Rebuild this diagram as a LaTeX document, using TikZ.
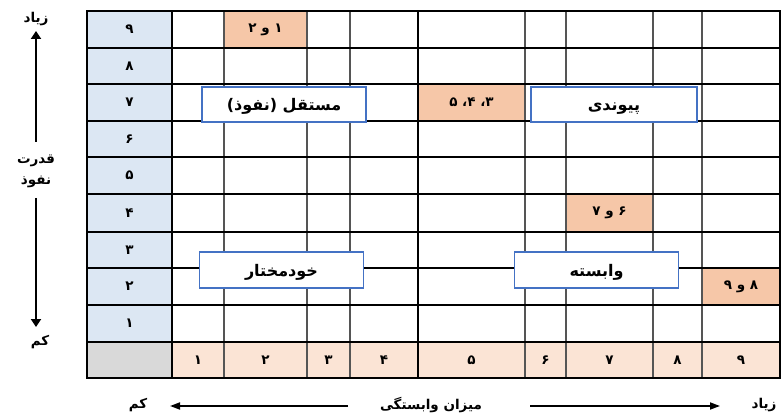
\documentclass[tikz,border=0pt]{standalone}
\usepackage{fontspec}
\TeXXeTstate=1
\newfontfamily\fa[Script=Arabic]{DejaVu Sans}
\usetikzlibrary{arrows.meta}
\definecolor{bluec}{HTML}{DCE7F3}
\definecolor{grayc}{HTML}{D9D9D9}
\definecolor{orangec}{HTML}{F6C7A8}
\definecolor{lorange}{HTML}{FBE4D5}
\definecolor{boxblue}{HTML}{4472C4}
\definecolor{gline}{HTML}{555555}
\begin{document}
\begin{tikzpicture}[x=1pt,y=-1pt,
  every node/.style={font=\fa\bfseries\fontsize{13.5}{15}\selectfont, inner sep=0pt},
  boxfont/.style={font=\fa\bfseries\fontsize{16}{18}\selectfont},
  hline/.style={line width=1.2pt, black},
  vline/.style={line width=1.2pt, gline},
  thick line/.style={line width=2pt, black},
  labelbox/.style={boxfont, draw=boxblue, fill=white, line width=1.3pt, minimum width=164pt, minimum height=35pt, text height=13pt, text depth=0pt},
  vaxis/.style={line width=2.8pt, -{Triangle[length=8pt,width=10pt]}},
  haxis/.style={line width=1.7pt, -{Triangle[length=10pt,width=7pt]}}]
\useasboundingbox (0,0) rectangle (782,414);
% fills
\fill[bluec] (87,11) rectangle (172,342);
\fill[grayc] (87,342) rectangle (172,378);
\fill[lorange] (172,342) rectangle (780,378);
\fill[orangec] (224,11) rectangle (307,48);
\fill[orangec] (418,84) rectangle (525,121);
\fill[orangec] (566,194) rectangle (653,232);
\fill[orangec] (702,268) rectangle (780,305);
% grid
\foreach \x in {224,307,350,525,566,653,702} \draw[vline] (\x,11) -- (\x,378);
\foreach \y in {48,84,121,157,232,268,305,342} \draw[hline] (87,\y) -- (780,\y);
\draw[hline] (172,11) -- (172,378);
\draw[thick line] (418,11) -- (418,378);
\draw[thick line] (87,194) -- (780,194);
\draw[line width=1.4pt] (87,11) rectangle (780,378);
% row numbers
\node (r9) at (129.5,29.5) {۹};
\node (r8) at (129.5,66) {۸};
\node (r7) at (129.5,102.5) {۷};
\node (r6) at (129.5,139) {۶};
\node (r5) at (129.5,175.5) {۵};
\node (r4) at (129.5,213) {۴};
\node (r3) at (129.5,250) {۳};
\node (r2) at (129.5,286.5) {۲};
\node (r1) at (129.5,323.5) {۱};
% column numbers
\node (c1) at (198,360) {۱};
\node (c2) at (265.5,360) {۲};
\node (c3) at (328.5,360) {۳};
\node (c4) at (384,360) {۴};
\node (c5) at (471.5,360) {۵};
\node (c6) at (545.5,360) {۶};
\node (c7) at (609.5,360) {۷};
\node (c8) at (677.5,360) {۸};
\node (c9) at (741,360) {۹};
% highlighted cells
\node (h12) at (265.5,29.5) {\beginR ۱ و ۲\endR};
\node (h345) at (471.5,102.5) {\beginR ۳، ۴، ۵\endR};
\node (h67) at (609.5,213) {\beginR ۶ و ۷\endR};
\node (h89) at (741,286.5) {\beginR ۸ و ۹\endR};
% quadrant boxes
\node[labelbox] (mostaqel) at (284,104.5) {\beginR مستقل (نفوذ)\endR};
\node[labelbox, minimum width=166pt] (peyvandi) at (614,104.5) {\beginR پیوندی\endR};
\node[labelbox, minimum height=36pt] (khod) at (281.5,270) {\beginR خودمختار\endR};
\node[labelbox, minimum height=36pt] (vabaste) at (596.5,270) {\beginR وابسته\endR};
% left axis
\node (ziadL) at (36,19) {\beginR زیاد\endR};
\node[align=center, font=\fa\bfseries\fontsize{13.5}{21}\selectfont] (qodrat) at (36,171) {\beginR قدرت\endR\\\beginR نفوذ\endR};
\node (kamL) at (40,342) {\beginR کم\endR};
\coordinate (lu0) at (36,142);
\coordinate (lu1) at (36,31);
\coordinate (ld0) at (36,198);
\coordinate (ld1) at (36,327);
\draw[vaxis] (lu0) -- (lu1);
\draw[vaxis] (ld0) -- (ld1);
% bottom axis
\node (kamB) at (138,405) {\beginR کم\endR};
\node (mizan) at (431,405) {\beginR میزان وابستگی\endR};
\node (ziadB) at (764,405) {\beginR زیاد\endR};
\coordinate (bl0) at (348,406);
\coordinate (bl1) at (170,406);
\coordinate (br0) at (530,406);
\coordinate (br1) at (720,406);
\draw[haxis] (bl0) -- (bl1);
\draw[haxis] (br0) -- (br1);
\end{tikzpicture}
\end{document}
